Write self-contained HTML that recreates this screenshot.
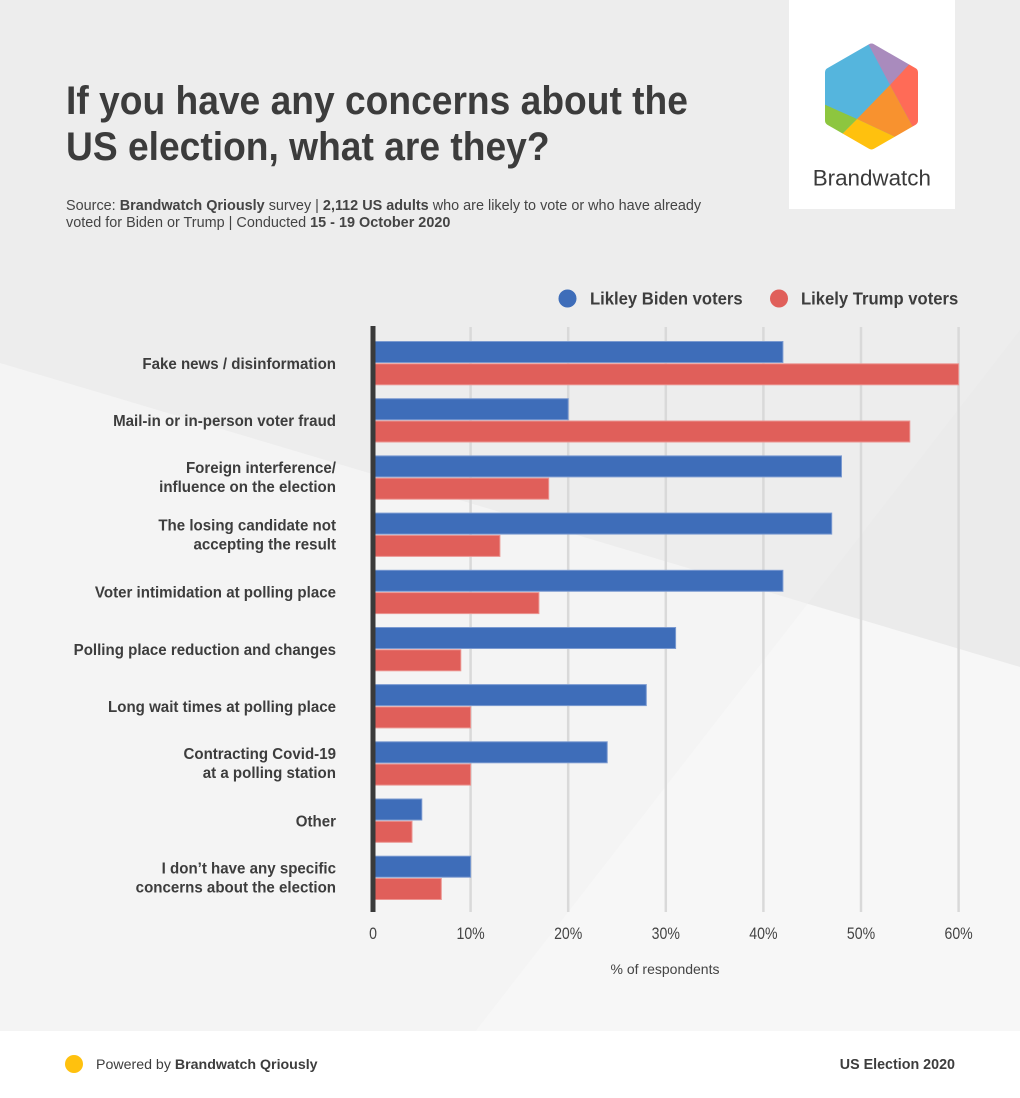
<!DOCTYPE html>
<html><head><meta charset="utf-8"><style>
html,body{margin:0;padding:0;background:#ededed;}
svg{display:block;}
text{font-family:"Liberation Sans",Arial,sans-serif;}
</style></head><body>
<svg width="1020" height="1098" viewBox="0 0 1020 1098" xmlns="http://www.w3.org/2000/svg">
<defs>
<mask id="hexm">
<rect x="780" y="0" width="200" height="220" fill="black"/>
<polygon points="871.5,48.6 913,72.5 913,120.5 871.5,144.4 830,120.5 830,72.5" fill="white" stroke="white" stroke-width="10" stroke-linejoin="round"/>
</mask>
</defs>
<!-- background -->
<rect x="0" y="0" width="1020" height="1098" fill="#ededed"/>
<polygon points="1020,330 807.5,603.7 1020,667" fill="#ebebeb"/>
<polygon points="0,363 807.5,603.7 475.5,1031 0,1031" fill="#f4f4f4"/>
<polygon points="807.5,603.7 1020,667 1020,1031 475.5,1031" fill="#f7f7f7"/>
<rect x="0" y="1031" width="1020" height="67" fill="#ffffff"/>

<!-- logo box -->
<rect x="789" y="0" width="166" height="209" fill="#ffffff"/>
<g mask="url(#hexm)">
<rect x="800" y="30" width="140" height="140" fill="#55b5dd"/>
<polygon points="864,36 890,85 915,58 880,20" fill="#a98bbd"/>
<polygon points="890,85 915,58 940,49 940,145 920,140" fill="#ff6b57"/>
<polygon points="890,85 920,140 906,142 857,119" fill="#f8922f"/>
<polygon points="857,119 906,142 871,165 836,140" fill="#ffc10e"/>
<polygon points="857,119 836,140 810,130 810,98" fill="#8dc63f"/>
</g>
<text x="812.7" y="185.7" font-size="22.4" fill="#3a3a3a">Brandwatch</text>

<!-- title -->
<g fill="#3c3c3c" font-weight="bold" font-size="40">
<text transform="translate(66,114) scale(0.93,1)">If you have any concerns about the</text>
<text transform="translate(66,160) scale(0.93,1)">US election, what are they?</text>
</g>
<g fill="#444" font-size="15">
<text transform="translate(66,210) scale(0.962,1)">Source: <tspan font-weight="bold">Brandwatch Qriously</tspan> survey | <tspan font-weight="bold">2,112 US adults</tspan> who are likely to vote or who have already</text>
<text transform="translate(66,227) scale(0.962,1)">voted for Biden or Trump | Conducted <tspan font-weight="bold">15 - 19 October 2020</tspan></text>
</g>

<!-- legend -->
<circle cx="567.5" cy="298.5" r="9" fill="#3e6db9"/>
<circle cx="779" cy="298.5" r="9" fill="#e05f5a"/>
<g fill="#3d3d3d" font-weight="bold" font-size="18">
<text transform="translate(590,304.3) scale(0.925,1)">Likley Biden voters</text>
<text transform="translate(801,304.3) scale(0.925,1)">Likely Trump voters</text>
</g>

<!-- gridlines -->
<g stroke="#d9d9d9" stroke-width="2.5">
<line x1="470.6" y1="327" x2="470.6" y2="912"/>
<line x1="568.2" y1="327" x2="568.2" y2="912"/>
<line x1="665.8" y1="327" x2="665.8" y2="912"/>
<line x1="763.4" y1="327" x2="763.4" y2="912"/>
<line x1="861" y1="327" x2="861" y2="912"/>
<line x1="958.6" y1="327" x2="958.6" y2="912"/>
</g>

<!-- bars -->
<g stroke-width="1">
<g fill="#3e6db9" stroke="#7b9ad0">
<rect x="373" y="341.5" width="409.9" height="21"/>
<rect x="373" y="398.7" width="195.2" height="21"/>
<rect x="373" y="455.9" width="468.5" height="21"/>
<rect x="373" y="513.1" width="458.7" height="21"/>
<rect x="373" y="570.3" width="409.9" height="21"/>
<rect x="373" y="627.5" width="302.6" height="21"/>
<rect x="373" y="684.6" width="273.3" height="21"/>
<rect x="373" y="741.8" width="234.2" height="21"/>
<rect x="373" y="799" width="48.8" height="21"/>
<rect x="373" y="856.2" width="97.6" height="21"/>
</g>
<g fill="#e05f5a" stroke="#eb9591">
<rect x="373" y="363.8" width="585.6" height="21"/>
<rect x="373" y="421" width="536.8" height="21"/>
<rect x="373" y="478.2" width="175.7" height="21"/>
<rect x="373" y="535.4" width="126.9" height="21"/>
<rect x="373" y="592.6" width="165.9" height="21"/>
<rect x="373" y="649.8" width="87.8" height="21"/>
<rect x="373" y="706.9" width="97.6" height="21"/>
<rect x="373" y="764.1" width="97.6" height="21"/>
<rect x="373" y="821.3" width="39" height="21"/>
<rect x="373" y="878.5" width="68.3" height="21"/>
</g>
</g>

<!-- axis -->
<rect x="370.5" y="326" width="5" height="586" fill="#3a3a3a"/>

<!-- category labels -->
<g fill="#3d3d3d" font-weight="bold" font-size="16" text-anchor="end">
<text transform="translate(336,368.8) scale(0.943,1)">Fake news / disinformation</text>
<text transform="translate(336,426) scale(0.943,1)">Mail-in or in-person voter fraud</text>
<text transform="translate(336,473.2) scale(0.943,1)">Foreign interference/</text>
<text transform="translate(336,492.2) scale(0.943,1)">influence on the election</text>
<text transform="translate(336,530.4) scale(0.943,1)">The losing candidate not</text>
<text transform="translate(336,549.4) scale(0.943,1)">accepting the result</text>
<text transform="translate(336,597.6) scale(0.943,1)">Voter intimidation at polling place</text>
<text transform="translate(336,654.8) scale(0.943,1)">Polling place reduction and changes</text>
<text transform="translate(336,711.9) scale(0.943,1)">Long wait times at polling place</text>
<text transform="translate(336,759) scale(0.943,1)">Contracting Covid-19</text>
<text transform="translate(336,778) scale(0.943,1)">at a polling station</text>
<text transform="translate(336,826.3) scale(0.943,1)">Other</text>
<text transform="translate(336,873.4) scale(0.943,1)">I don’t have any specific</text>
<text transform="translate(336,892.4) scale(0.943,1)">concerns about the election</text>
</g>

<!-- tick labels -->
<g fill="#444" font-size="17" text-anchor="middle">
<text transform="translate(373,939) scale(0.83,1)">0</text>
<text transform="translate(470.6,939) scale(0.83,1)">10%</text>
<text transform="translate(568.2,939) scale(0.83,1)">20%</text>
<text transform="translate(665.8,939) scale(0.83,1)">30%</text>
<text transform="translate(763.4,939) scale(0.83,1)">40%</text>
<text transform="translate(861,939) scale(0.83,1)">50%</text>
<text transform="translate(958.6,939) scale(0.83,1)">60%</text>
</g>
<text x="665" y="974" fill="#444" font-size="14" text-anchor="middle">% of respondents</text>

<!-- footer -->
<circle cx="74" cy="1064" r="9" fill="#ffc10e"/>
<text x="96" y="1069" fill="#3d3d3d" font-size="14.2">Powered by <tspan font-weight="bold">Brandwatch Qriously</tspan></text>
<text x="955" y="1069" fill="#3d3d3d" font-size="14.3" font-weight="bold" text-anchor="end">US Election 2020</text>
</svg>
</body></html>
